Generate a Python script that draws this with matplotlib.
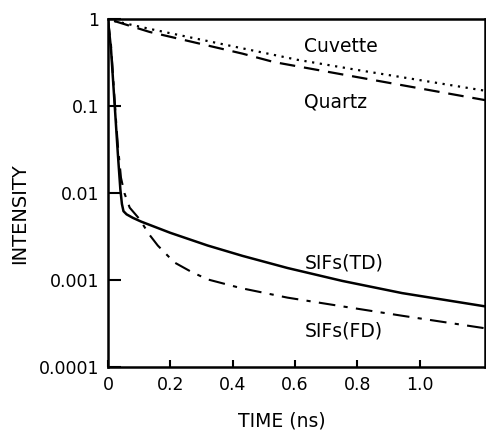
import matplotlib
matplotlib.use("Agg")
from matplotlib import pyplot as plt
from matplotlib.ticker import FixedLocator, FixedFormatter, NullLocator

# datos (tiempo en ns, intensidad normalizada)
t_cuvette = [0.02, 0.134, 0.432, 0.608, 0.8, 1.21]
i_cuvette = [0.95, 0.77, 0.46, 0.34, 0.26, 0.15]

t_quartz = [0.02, 0.134, 0.432, 0.533, 0.8, 1.21]
i_quartz = [0.95, 0.71, 0.40, 0.32, 0.215, 0.117]

t_td = [0.0, 0.01, 0.022, 0.032, 0.04, 0.045, 0.05, 0.06, 0.08, 0.107,
        0.2, 0.32, 0.432, 0.576, 0.752, 0.944, 1.21]
i_td = [1.0, 0.45, 0.1, 0.028, 0.011, 0.0075, 0.0062, 0.0057, 0.0052, 0.0047,
        0.0035, 0.0025, 0.0019, 0.00138, 0.00098, 0.00071, 0.0005]

t_fd = [0.0, 0.01, 0.022, 0.032, 0.042, 0.053, 0.07, 0.1, 0.134, 0.16,
        0.213, 0.267, 0.32, 0.427, 0.576, 0.752, 0.944, 1.21]
i_fd = [1.0, 0.5, 0.11, 0.035, 0.015, 0.01, 0.0068, 0.0051, 0.0033, 0.0025,
        0.0016, 0.00125, 0.00102, 0.00081, 0.00063, 0.0005, 0.00039, 0.00028]

x_ticks = [0, 0.2, 0.4, 0.6, 0.8, 1.0]
x_labels = ["0", "0.2", "0.4", "0.6", "0.8", "1.0"]
y_ticks = [1e-4, 1e-3, 1e-2, 1e-1, 1]
y_labels = ["0.0001", "0.001", "0.01", "0.1", "1"]

fig = plt.figure(figsize=(4.86, 4.32), dpi=100)
ax = fig.add_axes([0.222, 0.150, 0.776, 0.806])

ax.plot(t_cuvette, i_cuvette, color="black", lw=1.6, ls=(0, (1, 2.5)))
ax.plot(t_quartz, i_quartz, color="black", lw=1.6, ls=(0, (7, 4)))
ax.plot(t_td, i_td, color="black", lw=1.8, ls="-")
ax.plot(t_fd, i_fd, color="black", lw=1.5, ls=(0, (8, 4, 2, 4)))

ax.set_yscale("log")
ax.set_xlim(0, 1.21)
ax.set_ylim(1e-4, 1)

ax.xaxis.set_major_locator(FixedLocator(x_ticks))
ax.xaxis.set_major_formatter(FixedFormatter(x_labels))
ax.yaxis.set_major_locator(FixedLocator(y_ticks))
ax.yaxis.set_major_formatter(FixedFormatter(y_labels))
ax.xaxis.set_minor_locator(NullLocator())
ax.yaxis.set_minor_locator(NullLocator())
ax.tick_params(direction="in", width=1.5, labelsize=12.5)
ax.tick_params(axis="y", length=9, pad=6)
ax.tick_params(axis="x", length=5, pad=6)

for sp in ax.spines.values():
    sp.set_linewidth(1.8)

# etiquetas de las curvas
ax.text(0.63, 0.48, "Cuvette", fontsize=13.5, va="center")
ax.text(0.63, 0.111, "Quartz", fontsize=13.5, va="center")
ax.text(0.63, 0.00157, "SIFs(TD)", fontsize=13.5, va="center")
ax.text(0.63, 0.00026, "SIFs(FD)", fontsize=13.5, va="center")

ax.set_xlabel("TIME (ns)", fontsize=13.5)
ax.set_ylabel("INTENSITY", fontsize=14)
ax.xaxis.set_label_coords(0.46, -0.128)
ax.yaxis.set_label_coords(-0.21, 0.44)

fig.savefig("out.png", dpi=100)
